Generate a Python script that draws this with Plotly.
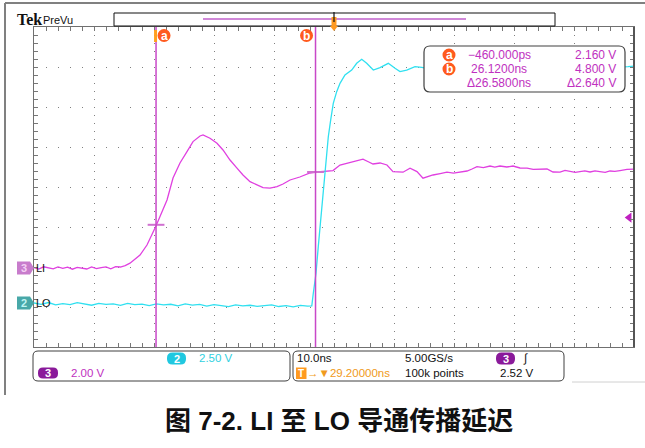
import plotly.graph_objects as go

# ---------------- data (time in ns, volts) ----------------
LI_T = [-20.8, -20.0, -19.2, -18.4, -17.6, -16.8, -16.0, -15.2, -14.4, -13.6, -12.8, -12.0,
        -11.2, -10.4, -9.6, -8.8, -8.0, -7.2, -6.4, -5.6, -4.8, -3.13, -1.97, -1.13, -0.47,
        0.2, 1.37, 2.37, 3.53, 4.7, 5.7, 6.87, 7.37, 8.53, 9.7, 10.7, 11.87, 13.03, 14.03,
        15.2, 16.37, 17.37, 18.53, 19.7, 20.7, 21.87, 23.5, 25.2, 26.37, 27.7, 29.03, 30.2,
        31.87, 33.03, 34.03, 35.0, 35.7, 36.87, 38.03, 39.03, 40.7, 41.87, 43.03, 44.03,
        45.7, 46.9, 48.03, 49.1, 50.2, 51.37, 52.2, 53.03, 54.1, 55.2, 56.0, 56.87, 58.0,
        59.03, 60.2, 61.37, 62.4, 63.5, 64.7, 65.7, 66.87, 67.7, 68.5, 69.4, 70.2, 71.0,
        71.87, 72.7, 73.5, 74.4, 75.2, 76.0, 76.87, 78.03, 79.2]
LI_V = [0.02, -0.05, 0.06, 0.0, -0.04, 0.05, -0.02, 0.04, -0.06, 0.03, 0.0, -0.05,
        0.05, -0.03, 0.02, 0.06, -0.04, 0.07, 0.05, 0.12, 0.24, 0.65, 1.15, 1.65, 2.1,
        2.57, 3.4, 4.5, 5.25, 5.82, 6.32, 6.6, 6.65, 6.49, 6.24, 5.9, 5.4, 4.99, 4.65,
        4.32, 4.15, 4.02, 3.99, 4.07, 4.2, 4.4, 4.55, 4.75, 4.8, 4.83, 4.87, 5.15,
        5.29, 5.35, 5.44, 5.3, 5.2, 5.25, 5.15, 4.82, 4.79, 4.99, 4.82, 4.49,
        4.65, 4.72, 4.79, 4.74, 4.79, 4.85, 4.95, 5.07, 5.02, 5.1, 5.04, 5.1, 5.05,
        5.1, 5.0, 4.99, 4.93, 4.95, 4.95, 4.8, 4.79, 4.88, 4.85, 4.78, 4.82, 4.86,
        4.8, 4.86, 4.82, 4.78, 4.85, 4.83, 4.87, 4.93, 4.94]

LO_T = [-20.8, -19.6, -18.4, -17.2, -16.0, -14.8, -13.6, -12.4, -11.2, -10.0, -8.8, -7.6,
        -6.4, -5.2, -4.0, -2.8, -1.6, -0.4, 0.8, 2.0, 3.2, 4.4, 5.6, 6.8, 8.0, 9.2, 10.4,
        11.6, 12.8, 14.0, 15.2, 16.4, 17.6, 18.8, 20.0, 21.2, 22.4, 23.6, 24.8, 25.5,
        25.75, 26.2, 26.58, 26.98, 27.42, 27.87, 28.25, 28.65, 29.08, 29.65, 30.2, 31.03,
        32.15, 32.98, 33.82, 34.65, 35.75, 36.87, 38.25, 39.37, 40.2, 41.32, 42.7, 43.82,
        45.5, 48.0, 51.0, 54.0, 57.0, 60.0, 63.0, 66.0, 69.0, 72.0, 75.0, 78.2, 79.2]
LO_V = [0.0, -0.08, 0.03, -0.12, -0.04, -0.1, 0.02, -0.06, -0.14, -0.03, -0.09, -0.05,
        -0.15, -0.02, -0.1, -0.07, -0.16, -0.05, -0.12, -0.08, -0.18, -0.06, -0.13, -0.09,
        -0.2, -0.1, -0.15, -0.22, -0.12, -0.18, -0.14, -0.21, -0.16, -0.12, -0.22, -0.17,
        -0.24, -0.15, -0.2, -0.18,
        0.61, 1.86, 3.52, 5.19, 7.27, 9.14, 10.39, 11.44, 12.48, 13.21, 13.73, 14.25,
        14.56, 14.98, 15.23, 14.98, 14.56, 14.71, 14.98, 14.67, 14.46, 14.56, 14.77, 14.73,
        14.6, 14.8, 14.7, 14.75, 14.7, 14.8, 14.7, 14.75, 14.7, 14.8, 14.72, 14.77, 14.81]

CURSOR_T = [-0.46, 26.12]
CURSOR_V = [2.16, 4.80]
CURSOR_NAMES = ["a", "b"]
TRIG_T = 29.2
TRIG_LEVEL = 2.52

READOUT_TIME = ["\u2212460.000ps", "26.1200ns", "\u039426.5800ns"]
READOUT_VOLT = ["2.160 V", "4.800 V", "\u03942.640 V"]

# ---------------- scope settings ----------------
X_LEFT, NS_DIV = -20.8, 10.0
CH3_VDIV, CH3_POS = 2.0, 1.975
CH2_VDIV, CH2_POS = 2.5, 1.1

W, H = 645, 448
L, R, T, B = 34, 634, 27, 347

def PX(x):
    return (x - L) / (R - L)

def PY(y):
    return (B - y) / (B - T)

MAG = "#e040e0"
CYAN = "#30e0f0"
CUR = "#c848c8"
ORANGE = "#ff5a1e"
TXT_MAG = "#c030c0"
FONT = "Liberation Sans"

fig = go.Figure()
fig.add_trace(go.Scatter(x=LI_T, y=LI_V, mode="lines", line=dict(color=MAG, width=1.3),
                         yaxis="y", hoverinfo="skip"))
fig.add_trace(go.Scatter(x=LO_T, y=LO_V, mode="lines", line=dict(color=CYAN, width=1.3),
                         yaxis="y2", hoverinfo="skip"))
# cursor crosshair ticks on the LI waveform
fig.add_trace(go.Scatter(x=CURSOR_T, y=CURSOR_V, mode="markers", yaxis="y",
                         marker=dict(symbol="line-ew-open", size=12, color="#d070d0",
                                     line=dict(color="#d070d0", width=2)),
                         hoverinfo="skip"))
# trigger level arrow on the right edge
fig.add_trace(go.Scatter(x=[X_LEFT + 10 * NS_DIV - 0.8], y=[TRIG_LEVEL], mode="markers",
                         yaxis="y", cliponaxis=False,
                         marker=dict(symbol="triangle-left", size=9, color="#c020c0"),
                         hoverinfo="skip"))

shapes = []
ann = []

def text(x, y, s, size=11.5, color="#111", xanchor="left", family=FONT, xref="paper",
         yref="paper", xshift=0, weight=None):
    f = dict(family=family, size=size, color=color)
    if weight:
        f["weight"] = weight
    ann.append(dict(xref=xref, yref=yref, x=x, y=y, text=s, showarrow=False,
                    xanchor=xanchor, yanchor="middle", xshift=xshift, font=f))

# cursors
for ct, nm, dx in zip(CURSOR_T, CURSOR_NAMES, [8, -9]):
    shapes.append(dict(type="line", xref="x", yref="paper", x0=ct, x1=ct, y0=0, y1=1,
                       line=dict(color=CUR, width=1.5), layer="above"))
    shapes.append(dict(type="circle", xref="x", yref="paper", xsizemode="pixel",
                       ysizemode="pixel", xanchor=ct, yanchor=PY(35.5),
                       x0=dx - 6.5, x1=dx + 6.5, y0=-6.5, y1=6.5,
                       fillcolor=ORANGE, line=dict(width=0), layer="above"))
    text(ct, PY(35.5), "<b>%s</b>" % nm, size=12, color="white", xanchor="center",
         xref="x", xshift=dx)
# small orange flag at cursor a
shapes.append(dict(type="rect", xref="x", yref="paper", xsizemode="pixel", xanchor=CURSOR_T[0],
                   x0=-2, x1=1, y0=PY(42), y1=PY(30), fillcolor="#ffa020",
                   line=dict(width=0), layer="above"))

def rrect(x0, y0, x1, y1, r):
    return ("M{a},{b} L{c},{b} Q{d},{b} {d},{e} L{d},{f} Q{d},{g} {c},{g} L{a},{g} "
            "Q{h},{g} {h},{f} L{h},{e} Q{h},{b} {a},{b} Z").format(
        a=PX(x0 + r), b=PY(y0), c=PX(x1 - r), d=PX(x1), e=PY(y0 + r), f=PY(y1 - r),
        g=PY(y1), h=PX(x0))

# readout box
shapes.append(dict(type="path", xref="paper", yref="paper", path=rrect(424, 46, 625, 92, 6),
                   fillcolor="white", line=dict(color="#404040", width=1.2), layer="above"))
for i, (tt, vv) in enumerate(zip(READOUT_TIME, READOUT_VOLT)):
    yy = 55 + 14 * i
    text(PX(499), PY(yy), tt, size=12, color=TXT_MAG, xanchor="center")
    text(PX(618), PY(yy), vv, size=12, color=TXT_MAG, xanchor="right")
for i, nm in enumerate(CURSOR_NAMES):
    yy = 55 + 14 * i
    shapes.append(dict(type="circle", xref="paper", yref="paper",
                       x0=PX(442.5), x1=PX(455.5), y0=PY(yy + 6.5), y1=PY(yy - 6.5),
                       fillcolor=ORANGE, line=dict(width=0), layer="above"))
    text(PX(449), PY(yy), "<b>%s</b>" % nm, size=12, color="white", xanchor="center")

# header: Tek PreVu
text(PX(15), PY(19), "<b>Tek</b>", size=16, family="Liberation Serif")
text(PX(41), PY(19.5), "PreVu", size=11)
shapes.append(dict(type="rect", xref="paper", yref="paper", x0=PX(114), x1=PX(555),
                   y0=PY(26), y1=PY(13), fillcolor="white", line=dict(color="#111", width=1)))
shapes.append(dict(type="line", xref="paper", yref="paper", x0=PX(203), x1=PX(466),
                   y0=PY(19), y1=PY(19), line=dict(color="#d088d8", width=2)))
# trigger position marker
shapes.append(dict(type="rect", xref="x", yref="paper", xsizemode="pixel", xanchor=TRIG_T,
                   x0=-2.5, x1=2.5, y0=PY(26), y1=PY(17), fillcolor="#ff9a20",
                   line=dict(width=0)))
shapes.append(dict(type="line", xref="x", yref="paper", x0=TRIG_T, x1=TRIG_T,
                   y0=PY(22), y1=PY(12), line=dict(color="#111", width=1.2)))
shapes.append(dict(type="path", xref="paper", yref="paper",
                   path="M{0},{1} L{2},{1} L{3},{4} Z".format(PX(330), PY(26), PX(338), PX(334), PY(31)),
                   fillcolor="#ff9a20", line=dict(width=0), layer="above"))

# left channel markers
def ch_badge(yref, label, fill, tcol, name):
    shapes.append(dict(type="path", xref="paper", yref=yref, ysizemode="pixel", yanchor=0,
                       path="M{0},-6.5 L{1},-6.5 L{2},0 L{1},6.5 L{0},6.5 Z".format(
                           PX(17), PX(30), PX(34)),
                       fillcolor=fill, line=dict(width=0)))
    text(PX(23.5), 0, "<b>%s</b>" % label, size=11, color=tcol, xanchor="center", yref=yref)
    text(PX(34), 0, name, size=11, yref=yref)

ch_badge("y", "3", "#c87ccc", "#f4d0f4", "LI")
ch_badge("y2", "2", "#48a8a8", "#c0f4f4", "LO")

# bottom status boxes
shapes.append(dict(type="path", xref="paper", yref="paper", path=rrect(33, 351, 290, 381, 5),
                   fillcolor="white", line=dict(color="#404040", width=1)))
shapes.append(dict(type="path", xref="paper", yref="paper", path=rrect(293, 351, 564, 381, 5),
                   fillcolor="white", line=dict(color="#404040", width=1)))

def pill(cx, cy, w, h, fill, label, tcol="white"):
    shapes.append(dict(type="path", xref="paper", yref="paper",
                       path=rrect(cx - w / 2, cy - h / 2, cx + w / 2, cy + h / 2, h / 2 - 0.5),
                       fillcolor=fill, line=dict(width=0)))
    text(PX(cx), PY(cy), "<b>%s</b>" % label, size=11, color=tcol, xanchor="center")

def stext(x, y, s, col="#111"):
    text(PX(x), PY(y), s, color=col)

pill(176.5, 358.5, 19, 12, "#20c8e0", "2")
stext(197, 358, "2.50 V", "#30d0e0")
pill(48, 373, 20, 11, "#8a1a9a", "3")
stext(68.5, 373, "2.00 V", TXT_MAG)
stext(294.5, 358, "10.0ns")
stext(402.5, 358, "5.00GS/s")
pill(505.5, 358.5, 19, 12, "#8a1a9a", "3")
stext(521, 358, "\u222b")
shapes.append(dict(type="rect", xref="paper", yref="paper", x0=PX(296), x1=PX(306.5),
                   y0=PY(379), y1=PY(367.5), fillcolor="#ff9a20", line=dict(width=0)))
text(PX(301.3), PY(373.2), "<b>T</b>", size=10, color="white", xanchor="center")
stext(304.5, 373, "\u2192\u25bc29.20000ns", "#f09a20")
stext(402.5, 373, "100k points")
stext(497.5, 373, "2.52 V")

# outer frame
shapes.append(dict(type="line", xref="paper", yref="paper", x0=PX(5), x1=PX(645),
                   y0=PY(3), y1=PY(3), line=dict(color="#808080", width=2)))
shapes.append(dict(type="line", xref="paper", yref="paper", x0=PX(5), x1=PX(5),
                   y0=PY(3), y1=PY(395), line=dict(color="#808080", width=2)))
shapes.append(dict(type="line", xref="paper", yref="paper", x0=PX(572), x1=PX(645),
                   y0=PY(382), y1=PY(382), line=dict(color="#d0d0d0", width=1)))
# right graticule edge (darker)
shapes.append(dict(type="line", xref="paper", yref="paper", x0=1, x1=1, y0=0, y1=1,
                   line=dict(color="#555", width=2)))

# caption
text(PX(339), PY(421), "图 7-2. LI 至 LO 导通传播延迟", size=26, xanchor="center",
     family="Liberation Sans, Noto Sans CJK SC", weight="bold")

fig.update_layout(
    width=W, height=H,
    margin=dict(l=L, r=W - R, t=T, b=H - B, pad=0),
    paper_bgcolor="white", plot_bgcolor="white",
    showlegend=False,
    xaxis=dict(range=[X_LEFT, X_LEFT + 10 * NS_DIV], tick0=X_LEFT, dtick=NS_DIV,
               showgrid=True, gridcolor="#808080", gridwidth=1, griddash="1px,7px",
               zeroline=False, showticklabels=False, ticks="inside", ticklen=4,
               tickcolor="#777", showline=True, linecolor="#707070", linewidth=1,
               mirror="ticks",
               minor=dict(tick0=X_LEFT, dtick=NS_DIV / 5, ticks="inside", ticklen=4,
                          tickcolor="#777", showgrid=False)),
    yaxis=dict(range=[-CH3_POS * CH3_VDIV, (8 - CH3_POS) * CH3_VDIV],
               tick0=-CH3_POS * CH3_VDIV, dtick=CH3_VDIV,
               showgrid=True, gridcolor="#808080", gridwidth=1, griddash="1px,11px",
               zeroline=False, showticklabels=False, ticks="inside", ticklen=4,
               tickcolor="#777", showline=True, linecolor="#707070", linewidth=1,
               mirror="ticks",
               minor=dict(tick0=-CH3_POS * CH3_VDIV, dtick=CH3_VDIV / 5, ticks="inside",
                          ticklen=4, tickcolor="#777", showgrid=False)),
    yaxis2=dict(range=[-CH2_POS * CH2_VDIV, (8 - CH2_POS) * CH2_VDIV], overlaying="y",
                visible=False, showgrid=False, zeroline=False),
    shapes=shapes, annotations=ann,
)

fig.write_html("out.html", config={"displayModeBar": False, "staticPlot": True},
               post_script="document.body.style.margin='0';")
